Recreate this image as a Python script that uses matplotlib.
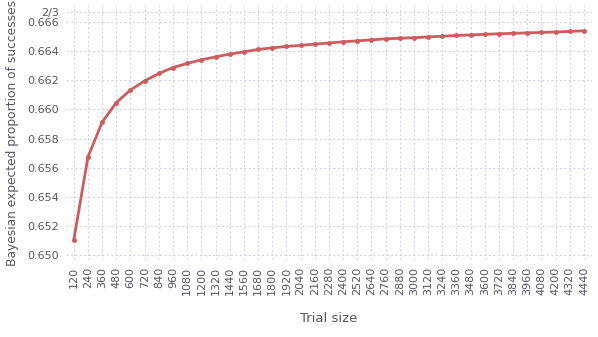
import matplotlib
matplotlib.use('Agg')
import matplotlib.pyplot as plt
import numpy as np

trial_size = [120, 240, 360, 480, 600, 720, 840, 960, 1080, 1200, 1320, 1440,
              1560, 1680, 1800, 1920, 2040, 2160, 2280, 2400, 2520, 2640, 2760,
              2880, 3000, 3120, 3240, 3360, 3480, 3600, 3720, 3840, 3960, 4080,
              4200, 4320, 4440]
expected = [0.65105, 0.65674, 0.65913, 0.66047, 0.66134, 0.66196, 0.66247,
            0.66288, 0.66316, 0.66341, 0.66361, 0.66380, 0.66396, 0.66412,
            0.66423, 0.66433, 0.66440, 0.66449, 0.66456, 0.66465, 0.66471,
            0.66478, 0.66485, 0.66489, 0.66493, 0.66498, 0.66503, 0.66508,
            0.66512, 0.66516, 0.66520, 0.66523, 0.66526, 0.66529, 0.66532,
            0.66536, 0.66540]
y_ticks = [0.650, 0.652, 0.654, 0.656, 0.658, 0.660, 0.662, 0.664, 0.666, 2 / 3]
y_labels = ['0.650', '0.652', '0.654', '0.656', '0.658', '0.660', '0.662',
            '0.664', '0.666', '2/3']

text_col = '#5a5363'
grid_col = '#d6d3e3'

fig = plt.figure(figsize=(5.98, 3.37), dpi=100)
ax = fig.add_axes([0.110, 0.2285, 0.880, 0.7565])

ax.plot(trial_size, expected, '-o', color='#cd5c5c', linewidth=2,
        markersize=2.5, zorder=3)

ax.set_xlim(52, 4508)
ax.set_ylim(0.64966, 0.66717)
ax.set_xticks(trial_size)
ax.set_xticklabels([str(t) for t in trial_size], rotation=90)
ax.set_yticks(y_ticks)
ax.set_yticklabels(y_labels)

for s in ax.spines.values():
    s.set_visible(False)
ax.tick_params(length=0, labelsize=8, labelcolor=text_col, pad=5)
ax.grid(True, color=grid_col, linestyle=(0, (2, 2)), linewidth=0.8)
ax.set_axisbelow(True)

ax.set_xlabel('Trial size', fontsize=9.5, color=text_col, labelpad=12)
ax.set_ylabel('Bayesian expected proportion of successes', fontsize=8.8,
              color=text_col, labelpad=6)

fig.savefig('out.png', dpi=100)
